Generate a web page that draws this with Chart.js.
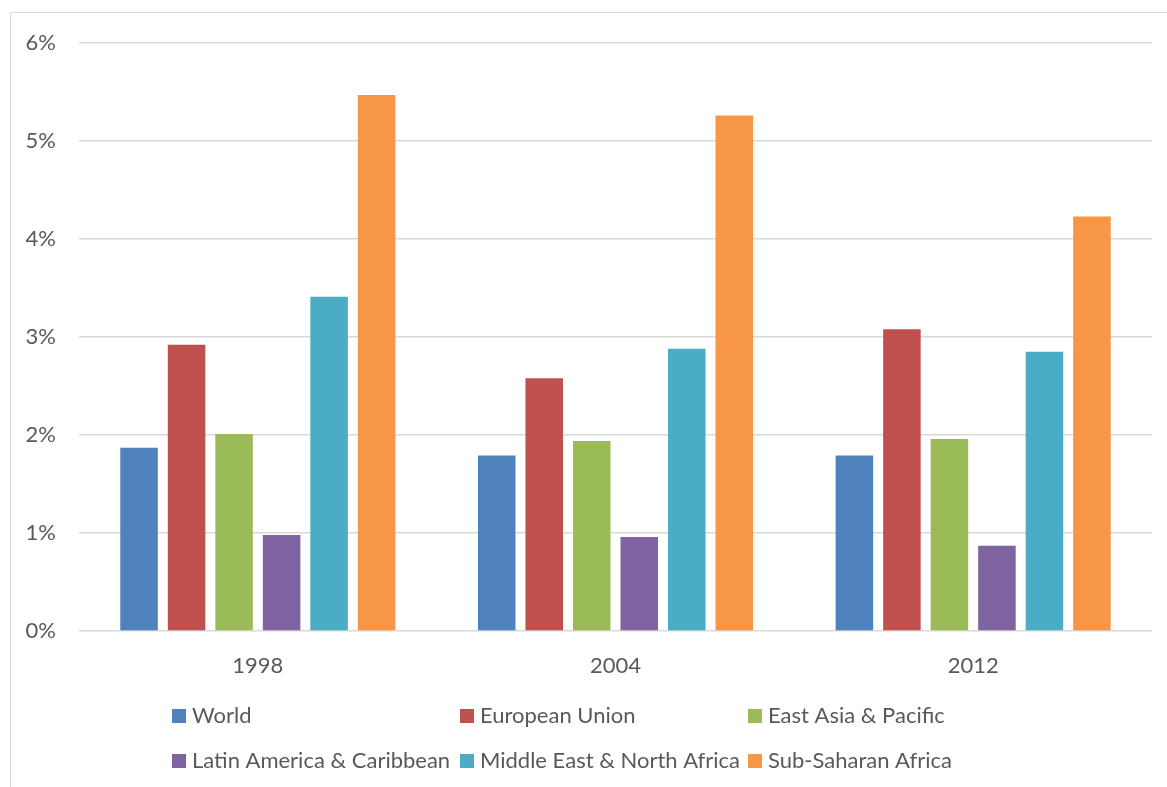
<!DOCTYPE html>
<html>
<head>
<meta charset="utf-8">
<script src="https://cdn.jsdelivr.net/npm/chart.js@4.4.1/dist/chart.umd.min.js"></script>
<style>
  html, body { margin: 0; padding: 0; background: #fff; overflow: hidden; }
  #frame {
    position: absolute; left: 10px; top: 12px; width: 1200px; height: 800px;
    border: 1.5px solid #d9d9d9; box-sizing: border-box;
  }
  #wrap { position: absolute; left: 0; top: 0; width: 1167px; height: 787px; }
</style>
</head>
<body>
<div id="frame"></div>
<div id="wrap"><canvas id="myChart" width="1167" height="787"></canvas></div>
<script>
const years = ['1998', '2004', '2012'];
const regionNames = [
    'World',
    'European Union',
    'East Asia & Pacific',
    'Latin America & Caribbean',
    'Middle East & North Africa',
    'Sub-Saharan Africa',
];

// share in percent, one value per year
const world = [1.87, 1.79, 1.79];
const europeanUnion = [2.92, 2.58, 3.08];
const eastAsiaPacific = [2.01, 1.94, 1.96];
const latinAmerica = [0.98, 0.96, 0.87];
const middleEast = [3.41, 2.88, 2.85];
const subSaharan = [5.47, 5.26, 4.23];

const seriesValues = [world, europeanUnion, eastAsiaPacific, latinAmerica, middleEast, subSaharan];
const seriesColors = ['#4F81BD', '#C0504D', '#9BBB59', '#8064A2', '#4BACC6', '#F79646'];

const FONT = 'Lato, "Liberation Sans", sans-serif';
const FONT_SIZE = 22;
const TEXT_COLOR = '#595959';

// legend laid out as a 3 x 2 grid under the axis
const gridLegend = {
    id: 'gridLegend',
    afterDraw(chart) {
        const ctx = chart.ctx;
        ctx.save();
        ctx.font = FONT_SIZE + 'px ' + FONT;
        ctx.textBaseline = 'middle';
        ctx.textAlign = 'left';
        chart.data.datasets.forEach((ds, i) => {
            const x = 172 + (i % 3) * 288;
            const y = 716 + Math.floor(i / 3) * 45;
            ctx.fillStyle = ds.backgroundColor;
            ctx.fillRect(x, y - 7, 14, 14);
            ctx.fillStyle = TEXT_COLOR;
            ctx.fillText(ds.label, x + 20, y);
        });
        ctx.restore();
    }
};

function drawChart() {
    const ctx = document.getElementById('myChart').getContext('2d');
    new Chart(ctx, {
        type: 'bar',
        data: {
            labels: years,
            datasets: regionNames.map((name, i) => ({
                label: name,
                data: seriesValues[i],
                backgroundColor: seriesColors[i],
                borderWidth: 0,
                categoryPercentage: 0.797,
                barPercentage: 0.79,
            })),
        },
        options: {
            responsive: false,
            animation: false,
            layout: {
                padding: { top: 43, right: 15, left: 0, bottom: 0 },
            },
            scales: {
                x: {
                    grid: { display: false },
                    border: { display: false },
                    ticks: {
                        color: TEXT_COLOR,
                        font: { family: FONT, size: FONT_SIZE },
                        padding: 14,
                    },
                    afterFit: (scale) => { scale.height = 156; },
                },
                y: {
                    min: 0,
                    max: 6,
                    ticks: {
                        stepSize: 1,
                        color: TEXT_COLOR,
                        font: { family: FONT, size: FONT_SIZE },
                        padding: 23,
                        callback: (v) => v + '%',
                    },
                    grid: {
                        color: '#d9d9d9',
                        lineWidth: 1.5,
                        drawTicks: false,
                    },
                    border: { display: false },
                    afterFit: (scale) => { scale.width = 79; },
                },
            },
            plugins: {
                legend: { display: false },
                tooltip: { enabled: false },
            },
        },
        plugins: [gridLegend],
    });
}

document.fonts.load(FONT_SIZE + 'px Lato').then(drawChart, drawChart);
</script>
</body>
</html>
